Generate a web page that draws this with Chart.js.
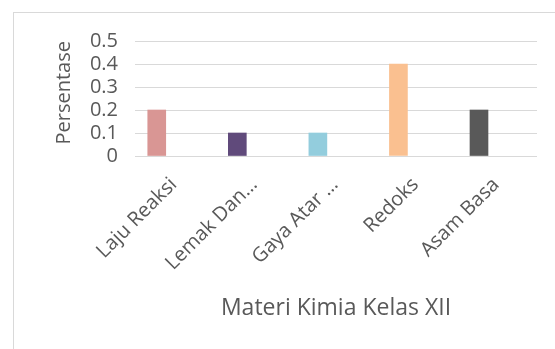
<!DOCTYPE html>
<html>
<head>
<meta charset="utf-8">
<script src="https://cdn.jsdelivr.net/npm/chart.js@4"></script>
<style>
  html, body { margin: 0; padding: 0; background: #fff; overflow: hidden; }
  #frame { position: absolute; left: 13px; top: 12px; width: 580px; height: 380px; border: 1px solid #d9d9d9; }
  #chart { position: absolute; left: 0; top: 0; }
</style>
</head>
<body>
<div id="frame"></div>
<canvas id="chart" width="555" height="349"></canvas>
<script>
// materi kimia kelas XII, share of each topic
const categories = ['Laju Reaksi', 'Lemak Dan…', 'Gaya Atar …', 'Redoks', 'Asam Basa']
const values = [0.2, 0.1, 0.1, 0.4, 0.2]
const barColors = ['#d99694', '#604a7b', '#93cddd', '#fac090', '#595959']
const yTickLabels = ['0', '0.1', '0.2', '0.3', '0.4', '0.5']

const textColor = '#595959'
const font = 'Open Sans'

let ChartMateri = new Chart(document.getElementById('chart'), {
    type: 'bar',
    data: {
        datasets: [{
            label: 'Persentase',
            data: values.map((v, i) => ({ x: i, y: v })),
            backgroundColor: barColors,
            barThickness: 18
        }]
    },
    options: {
        responsive: false,
        animation: false,
        layout: {
            padding: { left: 40, top: 41, right: 18, bottom: 0 }
        },
        plugins: {
            legend: { display: false },
            tooltip: { enabled: false }
        },
        scales: {
            x: {
                type: 'linear',
                offset: false,
                min: -0.27,
                max: 4.72,
                grid: { display: false },
                border: { display: false },
                afterBuildTicks: function (scale) {
                    scale.ticks = categories.map((c, i) => ({ value: i }))
                },
                afterFit: function (scale) {
                    scale.height = 349 - 156
                },
                ticks: {
                    autoSkip: false,
                    minRotation: 45,
                    maxRotation: 45,
                    labelOffset: 17,
                    padding: 9,
                    color: textColor,
                    font: { family: font, size: 20 },
                    callback: (value) => categories[value]
                },
                title: {
                    display: true,
                    text: 'Materi Kimia Kelas XII',
                    color: textColor,
                    font: { family: font, size: 23 },
                    padding: { top: 0, bottom: 27 }
                }
            },
            y: {
                min: 0,
                max: 0.5,
                grid: { color: '#d9d9d9', drawTicks: false },
                border: { display: false },
                afterFit: function (scale) {
                    scale.width = 95
                },
                ticks: {
                    autoSkip: false,
                    stepSize: 0.1,
                    padding: 17,
                    color: textColor,
                    font: { family: font, size: 20 },
                    callback: (value, index) => yTickLabels[index]
                },
                title: {
                    display: true,
                    text: 'Persentase',
                    align: 'end',
                    color: textColor,
                    font: { family: font, size: 20 },
                    padding: { top: 12, bottom: 0 }
                }
            }
        }
    }
})
</script>
</body>
</html>
